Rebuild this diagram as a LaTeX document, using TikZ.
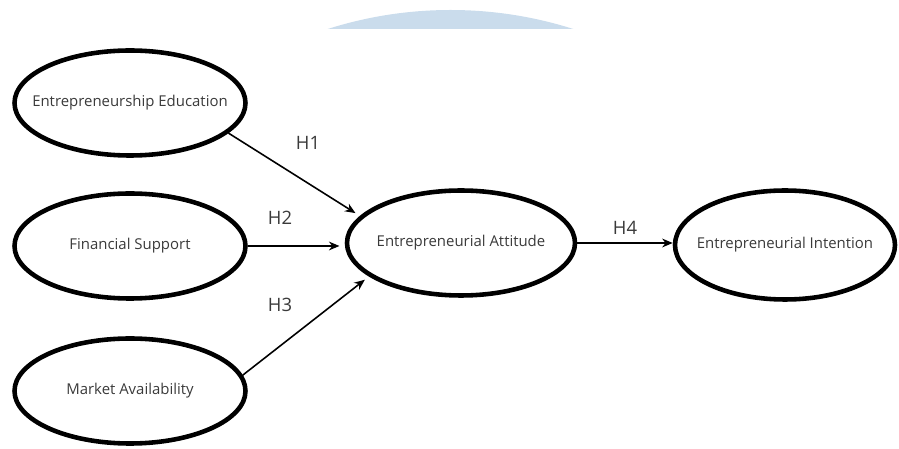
\documentclass[tikz,border=0pt]{standalone}
\usepackage{fontspec}
\setmainfont{Open Sans}
\usepackage{tikz}
\usetikzlibrary{shapes.geometric,calc,arrows.meta}
\definecolor{inkgray}{HTML}{3A3A3A}
\definecolor{paleblue}{HTML}{CADCEC}

\tikzset{
  construct/.style={draw=black, line width=2.6pt, ellipse, minimum width=4.62cm, minimum height=2.1cm,
    inner xsep=-0.5cm, inner ysep=0pt, text=inkgray, font=\fontsize{8.5}{10}\selectfont},
  hypo/.style={text=inkgray, font=\fontsize{10.5}{12}\selectfont},
  path/.style={-{Stealth[length=6pt,width=5pt]}, line width=0.9pt, shorten >=3pt}
}

\begin{document}
\begin{tikzpicture}
  \useasboundingbox (0,0) rectangle (17.98,8.98);

  % faint band at the top
  \begin{scope}
    \clip (0,8.4) rectangle (17.98,8.98);
    \fill[paleblue] (9.01,0.7) circle (8.08);
  \end{scope}

  % predictors
  \node[construct] (edu) at (2.6,6.92) {Entrepreneurship Education};
  \node[construct] (fin) at (2.6,4.06) {Financial Support};
  \node[construct] (mkt) at (2.6,1.16) {Market Availability};

  % mediator and outcome
  \node[construct, minimum width=4.56cm] (att) at (9.22,4.12) {Entrepreneurial Attitude};
  \node[construct, minimum width=4.4cm, minimum height=2.18cm] (int) at (15.7,4.08) {Entrepreneurial Intention};

  \draw[path] (edu.-17) -- (att.165);
  \draw[path] (fin.east) -- (fin.east -| att.west);
  \draw[path] (mkt.8) -- (att.200);
  \draw[path, shorten >=0pt] (att.east) -- (att.east -| int.west);

  \node[hypo] (h1) at (6.16,6.12) {H1};
  \node[hypo] (h2) at (5.6,4.62) {H2};
  \node[hypo] (h3) at (5.6,2.88) {H3};
  \node[hypo] (h4) at (12.5,4.42) {H4};

\end{tikzpicture}
\end{document}
